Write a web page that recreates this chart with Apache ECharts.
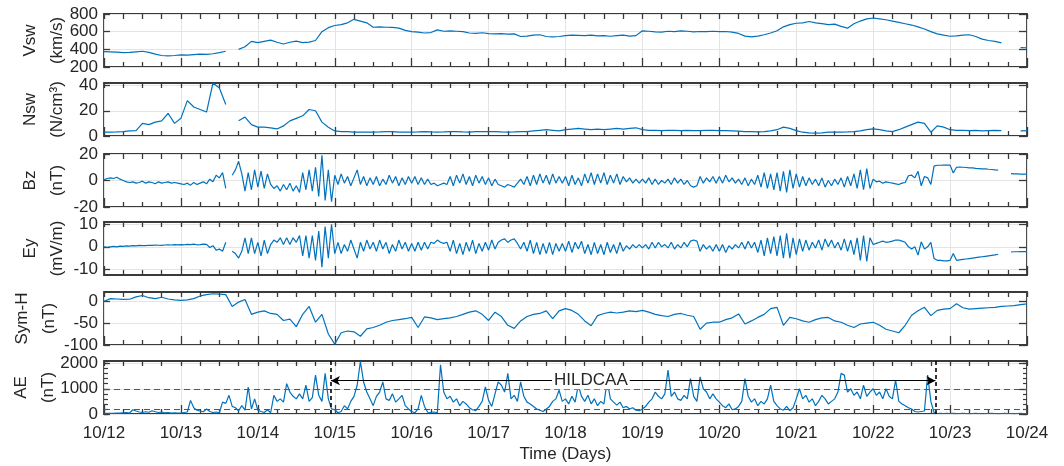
<!DOCTYPE html>
<html><head><meta charset="utf-8">
<script src="https://cdn.jsdelivr.net/npm/echarts@6/dist/echarts.min.js"></script>
<style>html,body{margin:0;padding:0;background:#fff}#c{width:1064px;height:466px}</style>
</head><body><div id="c"></div>
<script>
// ---------- DATA ----------
const xTickLabels = ['10/12','10/13','10/14','10/15','10/16','10/17','10/18','10/19','10/20','10/21','10/22','10/23','10/24'];

// 2-hour samples (12 per day), days since 10/12 00:00
const vsw = [
 375,372,368,362,365,372,378,365,345,330,325,330,
 337,335,340,345,342,350,362,378,null,400,430,490,
 475,490,505,480,460,480,492,475,482,500,600,645,
 670,680,700,740,720,700,650,655,650,648,640,615,
 600,595,585,590,620,605,610,605,600,585,580,588,
 578,575,578,572,575,545,550,560,565,545,540,545,
 555,560,558,555,560,552,555,548,555,560,550,555,
 610,605,598,595,605,600,610,605,598,602,600,605,
 600,602,595,580,550,540,550,565,585,610,655,680,
 695,700,715,700,690,680,685,660,640,690,720,745,
 755,745,735,720,705,690,675,655,630,600,575,560,
 548,552,560,565,545,515,500,490,474,null,null,420,
 418];
const nsw = [
 3,3,3.2,3.5,4,4.3,10,9,11,12,18,10,
 14,28,23,21,19,42,38,25,null,12,15,9,
 7,7,6.5,5.6,8,12,14,16,21,20,11,7,
 4,3.5,3.5,3,3,3,3,3.2,3.5,3.5,3,3,
 3,3.2,3.5,3.2,3,3.2,3.5,3.5,3.2,3,3.5,3.5,
 3.5,3.5,3.2,3,3.2,3.5,3.5,4,4.5,5,4.5,4,
 5,5.5,6,5.5,5,5.5,5,5.5,6,5.5,6,6.5,
 5,4.5,4.5,4.2,4.5,4.5,4.3,4.5,4.2,4.3,4.5,4.5,
 4.3,4.2,4,3.8,3.5,3.5,3.2,3.5,4,5,7,6,
 4.3,3,2.5,2.2,2.5,3,3,3,3.2,3.5,4,5,
 5.6,5,4,3.5,5,7,9,11,10,3,8,7,
 5,4.5,4.5,4.3,4.5,4,4.3,4.5,4.3,null,null,4,
 4.2];
const symh = [
 0,6,5,4,4.5,10,13,8,6,9,5,3,
 2,3,6,12,15,17,16,15,-12,-2,4,-30,
 -25,-22,-28,-30,-44,-41,-58,-30,-12,-48,-30,-75,
 -98,-72,-68,-70,-80,-63,-60,-55,-48,-44,-42,-40,
 -37,-60,-36,-38,-42,-40,-38,-35,-30,-25,-22,-30,
 -44,-25,-35,-55,-62,-45,-35,-30,-28,-22,-40,-22,
 -17,-21,-30,-45,-56,-33,-28,-25,-27,-25,-22,-24,
 -21,-25,-30,-33,-35,-30,-28,-32,-35,-64,-50,-48,
 -48,-42,-38,-29,-52,-45,-37,-30,-17,-14,-55,-37,
 -40,-45,-48,-42,-38,-37,-45,-48,-55,-60,-52,-50,
 -48,-55,-64,-68,-72,-55,-32,-22,-14,-33,-21,-18,
 -17,-6,-15,-18,-17,-16,-15,-14,-12,-11,-10,-8,
 -6];

// hourly samples (24 per day)
const bz = [
 0.5,1.5,2,1.5,2.5,1,0,-1,-1.5,-1,-2,-1.5,-0.5,-2,-1,-1.5,-2.5,-1,-2,-1.5,-1,-2,-1.5,-2,
 -2.5,-3,-2,-3.5,-1.5,-3,-2,-1,-2.5,1,-1,4,2,6,-6,null,4,8,14.5,5,-8,6,-7,8,
 -5,7,-6,5,-3,-6,-4,-8,-3,-7,-2,-8,-4,-9,6,-7,8,-8,10,-12,19,-15,8,-16,
 4,-3,5,-2,3,-4,2,8,-3,3,-4,2,-3,3,-4,1,-3,4,-2,3,-4,2,-3,3,
 -2,3,-3,2,-3,1,-3,-2,-4,-3,-2,-3,3,-4,4,-2,5,-3,3,-4,4,-2,3,-3,
 2,-4,1,-3,-4,-5,-3,-4,-5,-2,1,-3,3,-4,4,-3,5,-2,4,-3,5,-2,3,-2,
 3,-4,4,-3,2,-4,5,-2,6,-3,5,-2,6,-3,4,-2,5,-3,3,-1,2,-2,1,-2,
 1,-2,2,-3,1,-3,0,-2,1,-3,2,-2,1,-3,0,-4,-5,-4,3,-2,2,-1,3,-2,
 3,-2,4,-1,2,-2,1,-3,2,-4,1,-3,4,-5,6,-6,5,-7,6,-8,7,-9,8,-6,
 5,-5,3,-4,2,-3,1,-4,2,-5,0,-4,1,-3,2,-5,3,-4,5,-6,8,-7,9,-6,
 1,-1,-0.5,-2,-1,-1.5,-2,-2.5,-3,-2,-1.5,3.6,4,2,6.9,-4,3,2,-3,10.8,11.5,11.5,11.7,11.6,
 11.6,5.7,10,10.2,10,9.8,9.5,9.5,9.2,9,8.8,8.8,8.5,8.3,8,7.8,null,null,null,5.2,5,5,4.8,4.8,
 4.8];
const ey = [
 0,-0.2,0,0.2,0,0.3,0.2,0.4,0.3,0.5,0.4,0.6,0.5,0.5,0.7,0.6,0.8,0.7,0.6,0.8,0.9,0.8,1,0.9,
 1,0.9,1.1,1,1.2,0.9,1,1.2,1.1,-0.3,0.5,-1.5,-1,-2,2,null,-2,-3,-5,-2,4,-3,4,-3,
 2,-4,3,-3,1,3,2,4,1,4,1,4,2,5,-4,5,-5,5,-6,7,-9,9,-5,10,
 -3,2,-3,1,-2,3,-1,-5,2,-2,3,-1,2,-2,3,-1,2,-3,1,-2,3,-1,2,-2,
 1.5,-2,2,-1.5,2,-1,2,1.5,3,2,1.5,2,-2,3,-3,1.5,-3.5,2,-2,3,-3,1.5,-2,2,
 -1.5,3,-1,2,3,3.5,2,3,3.5,1.5,-1,2,-2,3,-3,2,-3.5,1.5,-3,2,-3.5,1.5,-2,1.5,
 -2,2.5,-2.5,2,-1,2.5,-3,1,-3.5,2,-3,1,-3.5,2,-2.5,1,-3,2,-2,0.5,-1,1,-0.5,1,
 -0.5,1,-1,2,-0.5,2,0,1,-0.5,2,-1,1,-0.5,2,0,2.5,3,2.5,-2,1,-1,0.5,-2,1,
 -2,1,-2.5,0.5,-1,1,-0.5,2,-1,2.5,-0.5,2,-2.5,3,-4,4,-3,4.5,-4,5,-5,6,-5,4,
 -3.5,3.5,-2,3,-1.5,2,-0.5,3,-1.5,3.5,0,3,-0.5,2,-1.5,3.5,-2,3,-3.5,4,-6,5,-6.5,4,
 1,1.5,2,2.5,2,2.2,2.5,3,3,2.5,2,0,-1,0,-3.7,2.2,-1,0,2,-5.2,-6,-6,-6.2,-6.2,
 -6,-3,-6,-5.8,-5.6,-5.4,-5.2,-5,-4.8,-4.6,-4.4,-4.2,-4,-3.8,-3.6,-3.3,null,null,null,-2.3,-2.2,-2.2,-2.1,-2.1,
 -2.1];
const ae = [
 30,30,25,30,40,35,50,60,40,170,120,80,60,90,70,130,90,60,80,50,60,40,50,40,
 40,60,80,540,250,150,120,90,200,100,60,80,50,470,420,740,300,250,130,330,150,1070,200,600,
 150,100,60,170,50,740,500,600,470,1200,870,700,600,800,600,1140,500,650,1540,740,500,1610,600,200,
 170,50,100,330,200,500,700,1140,2080,1270,870,600,330,700,870,1270,600,540,800,470,600,740,330,200,
 100,50,200,740,300,70,60,80,50,1950,870,600,700,470,600,330,500,400,250,170,130,300,500,1070,
 540,300,800,1270,1140,870,1610,600,740,500,1270,700,470,400,300,200,150,100,200,300,500,600,940,500,
 600,400,700,470,1140,700,500,740,400,600,330,500,400,1340,600,470,350,470,250,300,200,250,150,130,
 200,300,470,600,870,700,600,800,1740,700,870,600,540,740,600,1400,700,500,1470,1000,870,600,800,600,
 470,330,250,400,170,200,300,500,1400,700,470,600,330,500,400,600,1140,500,330,200,150,300,130,250,
 600,1000,600,740,470,600,330,500,740,600,400,500,600,870,1610,1540,870,1000,740,870,600,1140,700,870,
 1000,740,870,600,1000,700,600,1340,500,400,330,250,200,100,80,100,120,1540,500,60,20,30,20,25,
 20,25,15,20,25,20,15,20,25,20,15,20,20,25,20,15,20,25,20,20,15,20,25,20,
 20];

const vswTicks = [200,400,600,800];
const nswTicks = [0,20,40];
const bzTicks = [-20,0,20];
const eyTicks = [-10,0,10];
const symhTicks = [-100,-50,0];
const aeTicks = [0,1000,2000];
const hildcaaSpan = [2.95, 10.81];   // days since 10/12
const aeThresholds = [1000, 200];
const hildcaaArrowAE = 1320;
const hildcaaLabelDay = 6.33;
const hildcaaLabel = 'HILDCAA';

// ---------- CHART ----------
const t2 = vsw.map((_, i) => i / 12);
const t1 = bz.map((_, i) => i / 24);
const pairs = (t, v) => v.map((y, i) => [t[i], y === null ? '-' : y]);

const panels = [
  {name:'Vsw\n(km/s)', min:200, max:800, ticks:vswTicks, data:pairs(t2, vsw), gap:33},
  {name:'Nsw\n(N/cm³)', min:0, max:42, ticks:nswTicks, data:pairs(t2, nsw), gap:33},
  {name:'Bz\n(nT)', min:-20, max:20, ticks:bzTicks, data:pairs(t1, bz), gap:33},
  {name:'Ey\n(mV/m)', min:-12.5, max:11, ticks:eyTicks, data:pairs(t1, ey), gap:33},
  {name:'Sym-H\n(nT)', min:-100, max:21, ticks:symhTicks, data:pairs(t2, symh), gap:41},
  {name:'AE\n(nT)', min:0, max:2100, ticks:aeTicks, data:pairs(t1, ae), gap:42}
];
const tops = [14, 83, 154, 222, 292, 361];
const H = 53;
const dark = '#262626';
const boxColor = '#3a3a3a';
const gridColor = '#e4e4e4';
const blue = '#0072BD';

const grid = [], xAxis = [], yAxis = [], series = [];
panels.forEach((p, i) => {
  grid.push({left:104, right:37, top:tops[i], height:H, containLabel:false, outerBoundsMode:'none',
    show:true, borderColor:boxColor, borderWidth:1.8, backgroundColor:'transparent'});
  const last = i === panels.length - 1;
  xAxis.push({gridIndex:i, type:'value', min:0, max:12, interval:1, position:'bottom',
    axisLine:{show:false, onZero:false},
    axisTick:{show:true, inside:true, length:9, lineStyle:{color:boxColor, width:1.3}},
    minorTick:{show:true, splitNumber:4, length:5, lineStyle:{color:boxColor, width:1.3}},
    axisLabel:{show:last, margin:11, color:dark, fontSize:17, formatter:v => xTickLabels[Math.round(v)] || ''},
    splitLine:{show:true, lineStyle:{color:gridColor, width:1}},
    name: last ? 'Time (Days)' : '', nameLocation:'middle', nameGap:32, nameMoveOverlap:false,
    nameTextStyle:{color:dark, fontSize:17}
  });
  xAxis.push({gridIndex:i, type:'value', min:0, max:12, interval:1, position:'top',
    axisLine:{show:false, onZero:false},
    axisTick:{show:true, inside:true, length:5, lineStyle:{color:boxColor, width:1.3}},
    minorTick:{show:true, splitNumber:4, length:5, lineStyle:{color:boxColor, width:1.3}},
    axisLabel:{show:false}, splitLine:{show:false}
  });
  yAxis.push({gridIndex:i, type:'value', min:p.min, max:p.max, position:'left',
    axisLine:{show:false, onZero:false},
    axisTick:{show:true, inside:true, length:6, customValues:p.ticks, lineStyle:{color:boxColor, width:1.3}},
    axisLabel:{show:true, margin:6, color:dark, fontSize:17, customValues:p.ticks, formatter:v => String(v)},
    splitLine:{show:true, lineStyle:{color:gridColor, width:1}},
    name:p.name, nameLocation:'middle', nameRotate:90, nameGap:p.gap, nameMoveOverlap:false,
    nameTextStyle:{color:dark, fontSize:17, lineHeight:27}
  });
  yAxis.push({gridIndex:i, type:'value', min:p.min, max:p.max, position:'right',
    axisLine:{show:false, onZero:false},
    axisTick:{show:true, inside:true, length:8, customValues:p.ticks, lineStyle:{color:boxColor, width:1.3}},
    axisLabel:{show:false}, splitLine:{show:false}
  });
  series.push({type:'line', xAxisIndex:2*i, yAxisIndex:2*i, data:p.data, showSymbol:false,
    lineStyle:{color:blue, width:1.2}, clip:true, connectNulls:false, z:3});
});
// AE minor ticks (left and right)
['left','right'].forEach(pos => {
  yAxis.push({gridIndex:5, type:'value', min:0, max:2100, interval:200, position:pos,
    axisLine:{show:false, onZero:false},
    axisTick:{show:true, inside:true, length:4, lineStyle:{color:boxColor, width:1.2}},
    axisLabel:{show:false}, splitLine:{show:false}});
});
// HILDCAA markers on AE panel
const arrowStyle = {color:'#000', type:'solid', width:1.2};
series[5].markLine = {
  silent:true, animation:false, symbol:'none',
  data:[
    {xAxis:hildcaaSpan[0], lineStyle:{color:'#000', type:[4,3], width:1.6}, label:{show:false}},
    {xAxis:hildcaaSpan[1], lineStyle:{color:'#000', type:[4,3], width:1.6}, label:{show:false}},
    {yAxis:aeThresholds[0], lineStyle:{color:'#555', type:[6,4], width:1}, label:{show:false}},
    {yAxis:aeThresholds[1], lineStyle:{color:'#555', type:[6,4], width:1}, label:{show:false}},
    [{coord:[hildcaaSpan[0], hildcaaArrowAE], symbol:'arrow', symbolSize:[7,9], lineStyle:arrowStyle},
     {coord:[hildcaaSpan[1], hildcaaArrowAE], symbol:'arrow', symbolSize:[7,9], lineStyle:arrowStyle,
      label:{show:false}}]
  ]
};
series[5].markPoint = {
  silent:true, animation:false, symbol:'rect', symbolSize:[1,1], itemStyle:{color:'rgba(0,0,0,0)'},
  data:[{coord:[hildcaaLabelDay, hildcaaArrowAE], value:hildcaaLabel}],
  label:{show:true, position:'inside', formatter:hildcaaLabel, color:dark, fontSize:17,
         backgroundColor:'#fff', padding:[0,2]}
};

const chart = echarts.init(document.getElementById('c'), null, {renderer:'canvas'});
chart.setOption({
  animation:false,
  textStyle:{fontFamily:'"Liberation Sans", Arial, Helvetica, sans-serif'},
  grid, xAxis, yAxis, series
});
</script></body></html>
